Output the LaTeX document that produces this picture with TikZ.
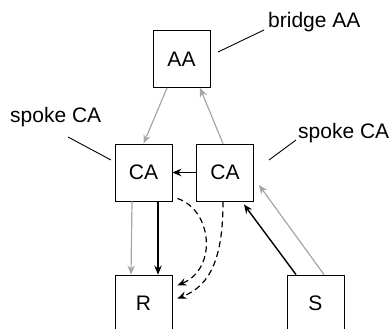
\documentclass[tikz,border=0pt]{standalone}
\usepackage{fontspec}
\setmainfont{Liberation Sans}
\usetikzlibrary{arrows.meta,calc}
\begin{document}
\begin{tikzpicture}[x=1pt,y=-1pt,
  box/.style={draw,line width=0.9pt,minimum width=57pt,minimum height=57pt,inner sep=0pt,font=\fontsize{21}{23}\selectfont},
  lbl/.style={inner sep=0pt,font=\fontsize{21}{23}\selectfont},
  tip/.style={-{Stealth[length=9pt,width=7.5pt,inset=3pt]}},
  blk/.style={tip,line width=1.4pt,black},
  gry/.style={tip,line width=1.2pt,black!35},
  dsh/.style={tip,line width=1.2pt,black,dash pattern=on 6pt off 4pt},
  leader/.style={line width=0.9pt}]
\useasboundingbox (0,0) rectangle (392,329);
\begin{scope}
\clip (0,0) rectangle (392,329);
\node[box] (AA) at (181.5,59) {AA};
\node[box] (CAL) at (143.5,172.5) {CA};
\node[box] (CAR) at (225,172.5) {CA};
\node[box] (R) at (143.5,303.5) {R};
\node[box] (S) at (315.5,303.5) {S};
\end{scope}
\node[lbl,anchor=west] (bl) at (268,22) {bridge AA};
\node[lbl,anchor=west] (sl) at (10,117) {spoke CA};
\node[lbl,anchor=west] (sr) at (298,133) {spoke CA};
\coordinate (b1) at (218,52); \coordinate (b2) at (264,30);
\coordinate (l1) at (68,137); \coordinate (l2) at (111,160);
\coordinate (r1) at (269,160); \coordinate (r2) at (296,140);
\draw[leader] (b1) -- (b2);
\draw[leader] (l1) -- (l2);
\draw[leader] (r1) -- (r2);
% arrows
\draw[gry] ([xshift=-14.5pt]AA.south) -- (CAL.north);
\draw[gry] ([xshift=-2pt]CAR.north) -- ([xshift=18.5pt]AA.south);
\draw[blk] (CAR.west) -- (CAL.east);
\draw[gry] ([xshift=-11.5pt]CAL.south) -- ([xshift=-12.5pt]R.north);
\draw[blk] ([xshift=14.5pt]CAL.south) -- ([xshift=14.5pt]R.north);
\draw[dsh] ([xshift=5pt,yshift=3pt]CAL.south east) .. controls (212,210) and (218,268) .. ([xshift=5pt,yshift=18pt]R.east);
\draw[dsh] ([xshift=-2pt]CAR.south) .. controls (223,255) and (212,285) .. ([xshift=5pt,yshift=5pt]R.east);
\draw[blk] ([xshift=-19.5pt]S.north) -- ([xshift=-10pt,yshift=-3pt]CAR.south east);
\draw[gry] ([xshift=8.5pt]S.north) -- ([xshift=5pt,yshift=-12.5pt]CAR.east);
\end{tikzpicture}
\end{document}
